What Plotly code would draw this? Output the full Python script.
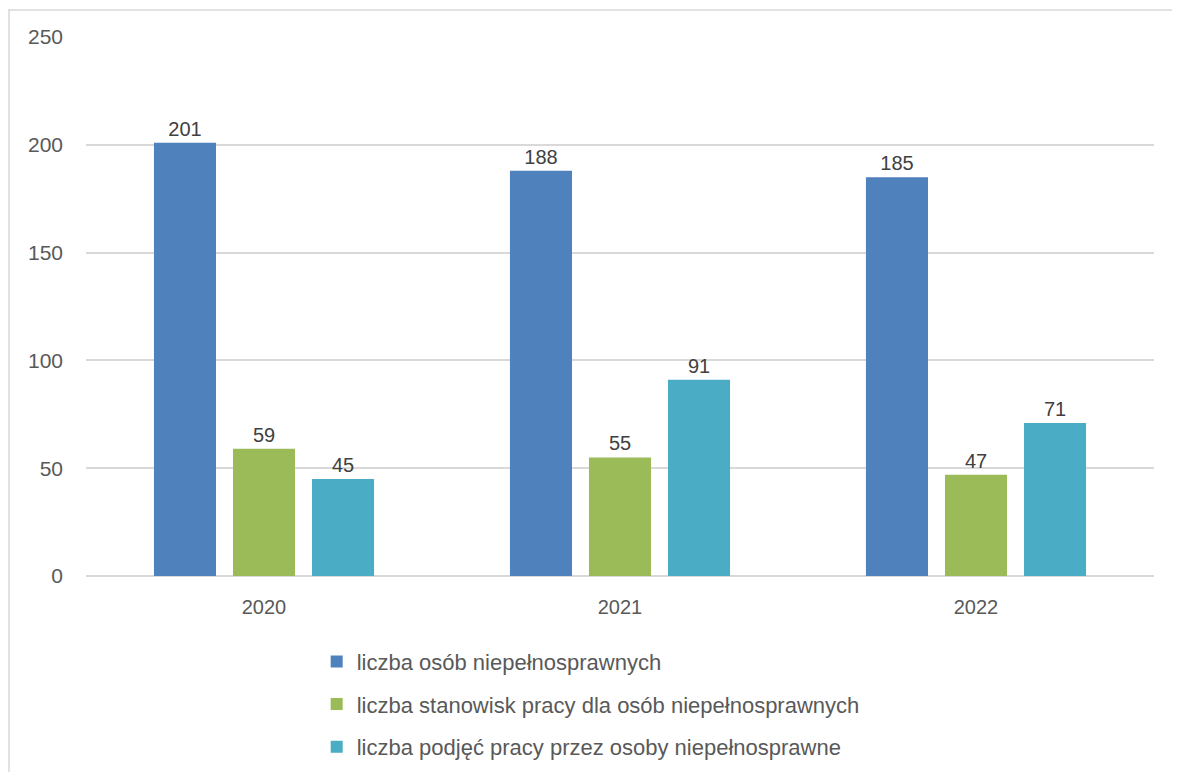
import plotly.graph_objects as go

years = ["2020", "2021", "2022"]
series_names = [
    "liczba osób niepełnosprawnych",
    "liczba stanowisk pracy dla osób niepełnosprawnych",
    "liczba podjęć pracy przez osoby niepełnosprawne",
]
osoby = [201, 188, 185]
stanowiska = [59, 55, 47]
podjecia = [45, 91, 71]
colors = ["#4F81BD", "#9BBB59", "#4BACC6"]
y_ticks = [0, 50, 100, 150, 200, 250]

FONT = "Liberation Sans"
W, H = 1164, 764
L, R, T, B = 78, 18, 29, 196
PW, PH = W - L - R, H - T - B

fig = go.Figure()
for i, (name, vals, col) in enumerate(zip(series_names, [osoby, stanowiska, podjecia], colors)):
    fig.add_trace(go.Bar(
        x=years, y=vals, name=name, legendgroup=f"g{i}",
        marker=dict(color=col, line=dict(width=0)),
        text=[str(v) for v in vals], textposition="outside",
        textfont=dict(family=FONT, size=20, color="#404040"),
        cliponaxis=False,
    ))

fig.update_layout(
    width=W, height=H,
    barmode="group", bargap=0.334, bargroupgap=0.215,
    plot_bgcolor="white", paper_bgcolor="white",
    margin=dict(l=L, r=R, t=T, b=B, autoexpand=False),
    font=dict(family=FONT, size=20, color="#595959"),
    xaxis=dict(showgrid=False, showline=False, ticks="", ticklabelstandoff=17,
               tickfont=dict(size=20, color="#595959")),
    yaxis=dict(range=[0, 250], tickvals=y_ticks, showgrid=True, gridcolor="#D9D9D9",
               gridwidth=1.5, zeroline=True, zerolinecolor="#D9D9D9", zerolinewidth=1.5,
               ticks="", ticklabelstandoff=22, tickfont=dict(size=21, color="#595959")),
    legend=dict(orientation="v", x=0.216, xanchor="left", y=-0.12, yanchor="top",
                font=dict(size=22, color="#595959"), tracegroupgap=11,
                itemwidth=30, itemsizing="constant"),
    shapes=[
        dict(type="line", xref="paper", yref="paper", x0=-L / PW, x1=(PW + R) / PW,
             y0=1 + (T - 2) / PH, y1=1 + (T - 2) / PH,
             line=dict(color="#D9D9D9", width=1.5)),
        dict(type="line", xref="paper", yref="paper", x0=-(L - 1) / PW, x1=-(L - 1) / PW,
             y0=1 + (T - 2) / PH, y1=-B / PH,
             line=dict(color="#D9D9D9", width=1.5)),
    ],
)
fig.write_html("out.html")
